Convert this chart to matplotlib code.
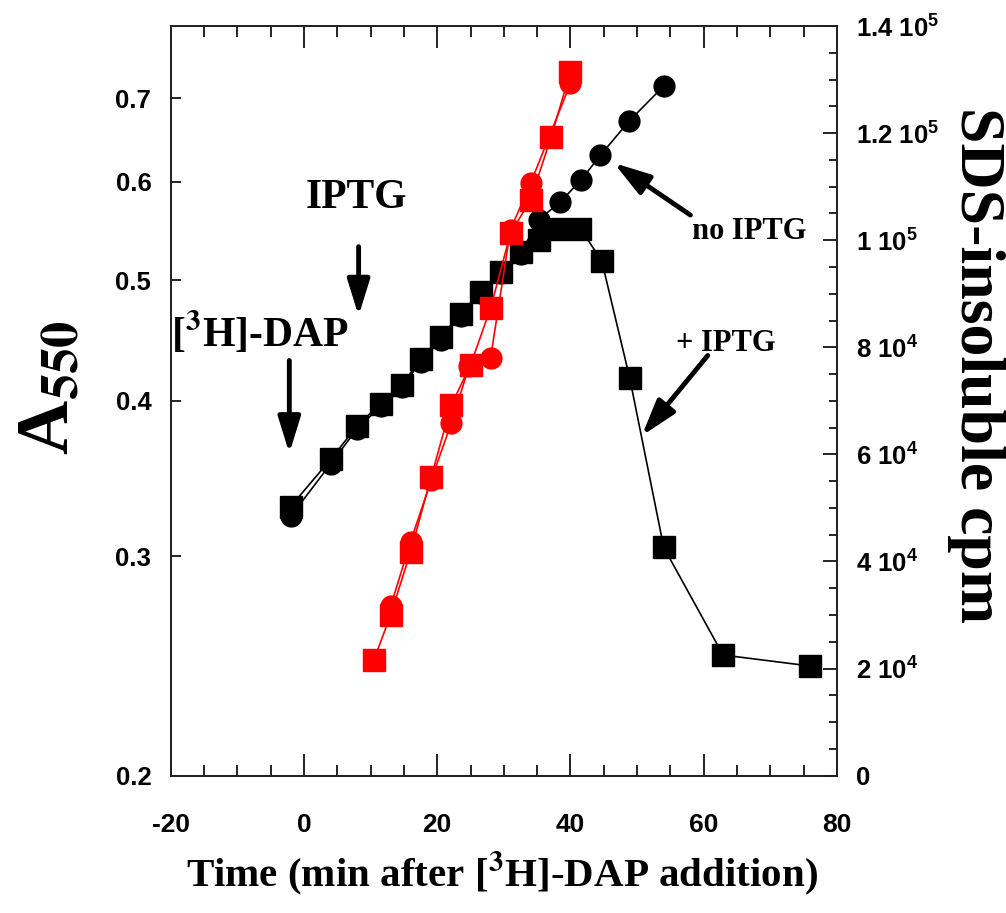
import matplotlib
matplotlib.use("Agg")
import matplotlib.pyplot as plt
from matplotlib.ticker import MultipleLocator, NullLocator

# A550 (left, log axis) -- black
time_plus = [-2, 4, 8, 11.5, 14.7, 17.5, 20.5, 23.5, 26.5, 29.5, 32.5, 35.2, 38.2,
             41.5, 44.7, 48.9, 54.0, 62.9, 75.9]
a550_plus = [0.329, 0.359, 0.382, 0.398, 0.412, 0.432, 0.450, 0.470, 0.489, 0.508,
             0.527, 0.539, 0.550, 0.550, 0.518, 0.417, 0.305, 0.250, 0.245]

time_no = [-2, 4, 8, 11.5, 14.7, 17.5, 20.5, 23.5, 26.5, 29.5, 32.5, 35.2, 38.5,
           41.6, 44.5, 48.8, 54.0]
a550_no = [0.323, 0.356, 0.380, 0.396, 0.410, 0.430, 0.448, 0.468, 0.488, 0.507,
           0.525, 0.559, 0.578, 0.602, 0.630, 0.671, 0.716]

# SDS-insoluble cpm (right axis) -- red
cpm_time_plus = [10.5, 13, 16, 19.1, 22.1, 25, 28, 31, 34, 37.1, 40]
cpm_plus = [21600, 30000, 41800, 55800, 69200, 76700, 87300, 101300, 107500,
            119300, 131500]

cpm_time_no = [13, 16, 19.1, 22.1, 24.8, 28, 31, 34, 40]
cpm_no = [31600, 43700, 55200, 65800, 76500, 78000, 102000, 110600, 129300]

x_ticks = [-20, 0, 20, 40, 60, 80]
a_ticks = [0.2, 0.3, 0.4, 0.5, 0.6, 0.7]
cpm_ticks = [0, 20000, 40000, 60000, 80000, 100000, 120000, 140000]
cpm_labels = ["0", "2 10$^{4}$", "4 10$^{4}$", "6 10$^{4}$", "8 10$^{4}$",
              "1 10$^{5}$", "1.2 10$^{5}$", "1.4 10$^{5}$"]

plt.rcParams['font.family'] = ['Liberation Sans', 'DejaVu Sans']
plt.rcParams['font.weight'] = 'bold'
plt.rcParams['mathtext.fontset'] = 'custom'
plt.rcParams['mathtext.rm'] = 'Liberation Sans:bold'
plt.rcParams['mathtext.it'] = 'Liberation Sans:bold'
plt.rcParams['mathtext.bf'] = 'Liberation Sans:bold'

fig = plt.figure(figsize=(10.06, 9.13), dpi=100)
ax = fig.add_axes([0.1697, 0.1504, 0.6623, 0.8211])
ax2 = ax.twinx()

ax.plot(time_no, a550_no, color='black', lw=1.2, marker='o', ms=15, zorder=3)
ax.plot(time_plus, a550_plus, color='black', lw=1.2, marker='s', ms=16.5, zorder=4)
ax2.plot(cpm_time_no, cpm_no, color='red', lw=1.2, marker='o', ms=15, zorder=3)
ax2.plot(cpm_time_plus, cpm_plus, color='red', lw=1.2, marker='s', ms=16.5, zorder=4)

ax.set_xlim(-20, 80)
ax.set_yscale('log')
ax.set_ylim(0.2, 0.8)
ax.set_yticks(a_ticks, labels=[str(v) for v in a_ticks])
ax.yaxis.set_minor_locator(NullLocator())
ax.set_xticks(x_ticks, labels=[str(v) for v in x_ticks])
ax.xaxis.set_minor_locator(MultipleLocator(5))
ax.tick_params(axis='x', which='both', direction='in', top=True, labelsize=19,
               pad=27, width=1.2)
ax.tick_params(axis='x', which='major', length=16)
ax.tick_params(axis='x', which='minor', length=8)
ax.tick_params(axis='y', which='major', direction='in', length=7, width=1.2,
               right=False, labelsize=18.5, pad=14)

ax2.set_ylim(0, 140000)
ax2.set_yticks(cpm_ticks, labels=cpm_labels)
ax2.yaxis.set_minor_locator(MultipleLocator(5000))
ax2.tick_params(axis='y', which='both', direction='in', width=1.2, labelsize=18.5, pad=14)
ax2.tick_params(axis='y', which='major', length=10)
ax2.tick_params(axis='y', which='minor', length=6)

for a in (ax, ax2):
    for s in a.spines.values():
        s.set_linewidth(1.3)
        s.set_color('#222222')

serif = dict(family='Liberation Serif', weight='bold', math_fontfamily='stix')
arrow = dict(arrowstyle='-|>,head_length=0.55,head_width=0.17', lw=3.5, color='black',
             mutation_scale=40, shrinkA=0, shrinkB=0)

ax.text(7.9, 0.571, 'IPTG', ha='center', va='baseline', size=30, **serif)
ax.annotate('', xy=(8.2, 0.468), xytext=(8.2, 0.532), arrowprops=arrow)

ax.text(-6.7, 0.443, r'[$^{\mathbf{3}}$H]-DAP', ha='center', va='baseline', size=30, **serif)
ax.annotate('', xy=(-2.2, 0.363), xytext=(-2.2, 0.431), arrowprops=arrow)

ax.text(58.3, 0.540, 'no IPTG', ha='left', va='baseline', size=22, **serif)
ax.annotate('', xy=(46.5, 0.621), xytext=(58.0, 0.564), arrowprops=arrow)

ax.text(55.8, 0.439, '+ IPTG', ha='left', va='baseline', size=22, **serif)
ax.annotate('', xy=(50.7, 0.375), xytext=(60.6, 0.435), arrowprops=arrow)

fig.text(0.050, 0.575, r'A$_{\mathbf{550}}$', rotation=90, ha='center', va='center',
         size=54, **serif)
fig.text(0.970, 0.600, 'SDS-insoluble cpm', rotation=270, ha='center', va='center',
         size=46, **serif)
fig.text(0.499, 0.044, r'Time (min after [$^{\mathbf{3}}$H]-DAP addition)', ha='center',
         va='center', size=29.5, **serif)

fig.savefig('out.png', dpi=100)
